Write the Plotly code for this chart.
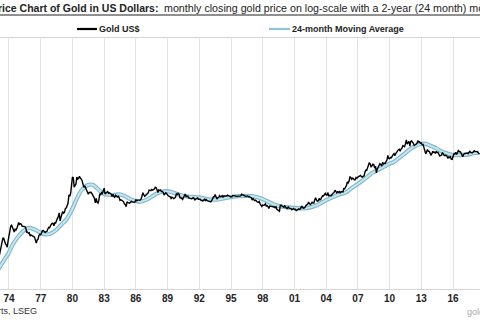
import plotly.graph_objects as go

# Monthly closing gold price (US$), Jan 1972 - Jul 2018, read/estimated from the chart
gold_1970s = [
    46, 48, 48, 49, 54, 62, 66, 67, 65, 64, 63, 64,            # 1972
    65, 74, 84, 90, 102, 120, 120, 106, 103, 100, 94, 112,     # 1973
    129, 150, 168, 172, 163, 154, 143, 154, 151, 158, 181, 186,  # 1974
    176, 180, 177, 167, 167, 165, 166, 160, 142, 143, 138, 140,  # 1975
    128, 132, 129, 128, 126, 124, 113, 105, 115, 117, 130, 134,  # 1976
    132, 142, 148, 149, 144, 141, 144, 145, 154, 162, 160, 165,  # 1977
    176, 182, 181, 170, 184, 183, 200, 208, 218, 242, 194, 226,  # 1978
    233, 251, 240, 245, 274, 277, 296, 315, 397, 383, 416, 512,  # 1979
]
gold_1980s = [
    653, 637, 494, 518, 535, 653, 614, 631, 667, 629, 619, 590,
    506, 489, 513, 482, 479, 426, 406, 425, 428, 427, 414, 400,
    387, 362, 320, 361, 325, 317, 342, 411, 397, 423, 414, 448,
    480, 408, 414, 429, 437, 416, 422, 414, 405, 382, 405, 382,
    373, 394, 388, 375, 384, 373, 342, 348, 343, 333, 329, 309,
    306, 287, 329, 321, 316, 317, 327, 333, 326, 325, 325, 327,
    350, 338, 344, 345, 343, 345, 357, 384, 423, 401, 383, 391,
    405, 406, 421, 454, 451, 447, 462, 453, 460, 468, 492, 484,
    458, 426, 457, 449, 455, 436, 437, 427, 397, 412, 422, 410,
    394, 387, 383, 377, 361, 373, 368, 359, 366, 375, 408, 401,
]
gold_1990s = [
    415, 407, 368, 367, 363, 352, 372, 387, 408, 380, 384, 386,
    366, 362, 355, 357, 360, 368, 362, 347, 354, 357, 366, 353,
    354, 353, 341, 336, 337, 343, 357, 340, 349, 339, 334, 333,
    330, 328, 337, 354, 378, 378, 401, 372, 355, 370, 371, 391,
    378, 381, 390, 376, 388, 386, 385, 386, 395, 389, 383, 383,
    375, 376, 392, 390, 385, 387, 383, 382, 384, 383, 387, 387,
    405, 400, 396, 392, 392, 382, 385, 387, 379, 380, 371, 369,
    345, 358, 348, 340, 345, 334, 326, 325, 332, 311, 296, 290,
    302, 297, 301, 310, 293, 296, 288, 273, 293, 292, 294, 288,
    285, 287, 279, 286, 268, 261, 255, 254, 299, 299, 291, 290,
]
gold_2000s = [
    283, 293, 278, 275, 272, 288, 276, 277, 273, 264, 270, 274,
    266, 267, 258, 263, 267, 270, 266, 273, 293, 279, 275, 277,
    282, 297, 302, 308, 326, 318, 304, 313, 324, 317, 318, 347,
    368, 347, 334, 336, 361, 346, 354, 375, 388, 386, 398, 416,
    399, 396, 424, 388, 393, 395, 392, 408, 416, 426, 453, 435,
    422, 435, 427, 436, 418, 437, 430, 433, 473, 470, 495, 513,
    569, 556, 582, 654, 643, 614, 633, 624, 600, 604, 646, 632,
    650, 665, 662, 680, 659, 650, 666, 673, 743, 789, 783, 834,
    924, 972, 934, 865, 886, 930, 919, 834, 880, 730, 815, 870,
    928, 942, 917, 883, 975, 935, 955, 955, 996, 1040, 1182, 1088,
]
gold_2010s = [
    1083, 1119, 1113, 1180, 1208, 1245, 1170, 1246, 1307, 1347, 1386, 1405,
    1332, 1411, 1439, 1556, 1536, 1505, 1628, 1813, 1620, 1722, 1746, 1531,
    1744, 1770, 1662, 1651, 1558, 1598, 1622, 1648, 1776, 1720, 1726, 1657,
    1664, 1588, 1598, 1469, 1394, 1234, 1312, 1395, 1326, 1324, 1253, 1202,
    1244, 1326, 1284, 1296, 1250, 1327, 1282, 1285, 1217, 1164, 1182, 1200,
    1284, 1213, 1183, 1183, 1190, 1171, 1095, 1132, 1115, 1142, 1065, 1060,
    1118, 1238, 1233, 1291, 1215, 1321, 1351, 1309, 1316, 1273, 1174, 1146,
    1212, 1253, 1249, 1268, 1267, 1243, 1270, 1321, 1283, 1271, 1275, 1303,
    1345, 1317, 1324, 1315, 1299, 1251, 1224,
]
gold_usd = gold_1970s + gold_1980s + gold_1990s + gold_2000s + gold_2010s
gold_start = 1972.0

# 24-month moving average, half-yearly readings (end Dec 1972 .. end Jun 2018)
ma_start = 1972.917
ma_usd = [
    49, 62, 78, 104, 128, 149, 160, 153, 142, 134, 136, 149, 173, 201, 258,
    359, 462, 519, 527, 467, 413, 400, 396, 405, 387, 357, 339, 330, 344, 373,
    409, 434, 441, 428, 406, 389, 381, 376, 371, 362, 351, 348, 353, 363, 374,
    383, 385, 388, 385, 376, 358, 334, 312, 295, 287, 282, 278, 275, 274, 280,
    292, 313, 340, 364, 389, 409, 430, 481, 531, 589, 659, 738, 792, 860, 932,
    991, 1109, 1242, 1402, 1529, 1624, 1631, 1537, 1443, 1326, 1254, 1204,
    1191, 1201, 1212, 1258, 1277,
]

tick_years = [1974, 1977, 1980, 1983, 1986, 1989, 1992, 1995, 1998, 2001, 2004, 2007, 2010, 2013, 2016]
tick_labels = ["74", "77", "80", "83", "86", "89", "92", "95", "98", "01", "04", "07", "10", "13", "16"]

gold_x = [gold_start + i / 12 for i in range(len(gold_usd))]
ma_x = [ma_start + 0.5 * i for i in range(len(ma_usd))]

fig = go.Figure()
fig.add_trace(go.Scatter(x=ma_x, y=ma_usd, mode="lines", line=dict(color="#7fb5c8", width=4.2, shape="spline", smoothing=1.0),
                         hoverinfo="skip", showlegend=False))
fig.add_trace(go.Scatter(x=ma_x, y=ma_usd, mode="lines", line=dict(color="#c2e6f1", width=2, shape="spline", smoothing=1.0),
                         name="24-month Moving Average", showlegend=False))
fig.add_trace(go.Scatter(x=gold_x, y=gold_usd, mode="lines", line=dict(color="#000000", width=1.4),
                         name="Gold US$", showlegend=False))

FONT = "Liberation Sans, Arial, sans-serif"
H = 251.0
W = 480.0

def py(pix):  # pixel row -> paper y
    return (289 - pix) / H

def px(pix):
    return pix / W

shapes = [
    dict(type="line", xref="paper", yref="paper", x0=-0.1, x1=1.1, y0=py(15), y1=py(15), line=dict(color="#222", width=1.2)),
    dict(type="line", xref="paper", yref="paper", x0=px(77), x1=px(97), y0=py(29), y1=py(29), line=dict(color="#000", width=2.2)),
    dict(type="line", xref="paper", yref="paper", x0=px(269), x1=px(290), y0=py(29), y1=py(29), line=dict(color="#8fc3d5", width=2.2)),
]
annotations = [
    dict(text="<b>Price Chart of Gold in US Dollars:</b>", xref="paper", yref="paper", x=px(160), y=py(8),
         xanchor="right", yanchor="middle", showarrow=False, font=dict(family=FONT, size=10.5, color="#222")),
    dict(text="monthly closing gold price on log-scale with a 2-year (24 month) moving average", xref="paper", yref="paper",
         x=px(162), y=py(8), xanchor="left", yanchor="middle", showarrow=False, font=dict(family=FONT, size=10.7, color="#222")),
    dict(text="<b>Gold US$</b>", xref="paper", yref="paper", x=px(97), y=py(29), xanchor="left", yanchor="middle",
         showarrow=False, font=dict(family=FONT, size=9, color="#222")),
    dict(text="<b>24-month Moving Average</b>", xref="paper", yref="paper", x=px(290), y=py(29), xanchor="left", yanchor="middle",
         showarrow=False, font=dict(family=FONT, size=9, color="#222")),
    dict(text="Source: GoldCharts, LSEG", xref="paper", yref="paper", x=px(39), y=py(311), xanchor="right", yanchor="middle",
         showarrow=False, font=dict(family=FONT, size=9, color="#333")),
    dict(text="goldchartsrus.com", xref="paper", yref="paper", x=px(465), y=py(312), xanchor="left", yanchor="middle",
         showarrow=False, font=dict(family=FONT, size=9, color="#aaa")),
]

fig.update_layout(
    width=480, height=320, margin=dict(l=0, r=0, t=38, b=31),
    paper_bgcolor="white", plot_bgcolor="white",
    shapes=shapes, annotations=annotations, showlegend=False,
    xaxis=dict(range=[1973.15, 2018.55], tickvals=tick_years, ticktext=["<b>%s</b>" % t for t in tick_labels],
               tickfont=dict(family=FONT, size=10, color="#222"), showgrid=True, gridcolor="#e3e3e3", gridwidth=1,
               showline=True, linecolor="#d5d5d5", linewidth=1, mirror=True, ticks="", zeroline=False),
    yaxis=dict(type="log", range=[1.471, 4.482], showgrid=False, showticklabels=False, showline=False, zeroline=False, ticks=""),
)

fig.write_html("out.html")
